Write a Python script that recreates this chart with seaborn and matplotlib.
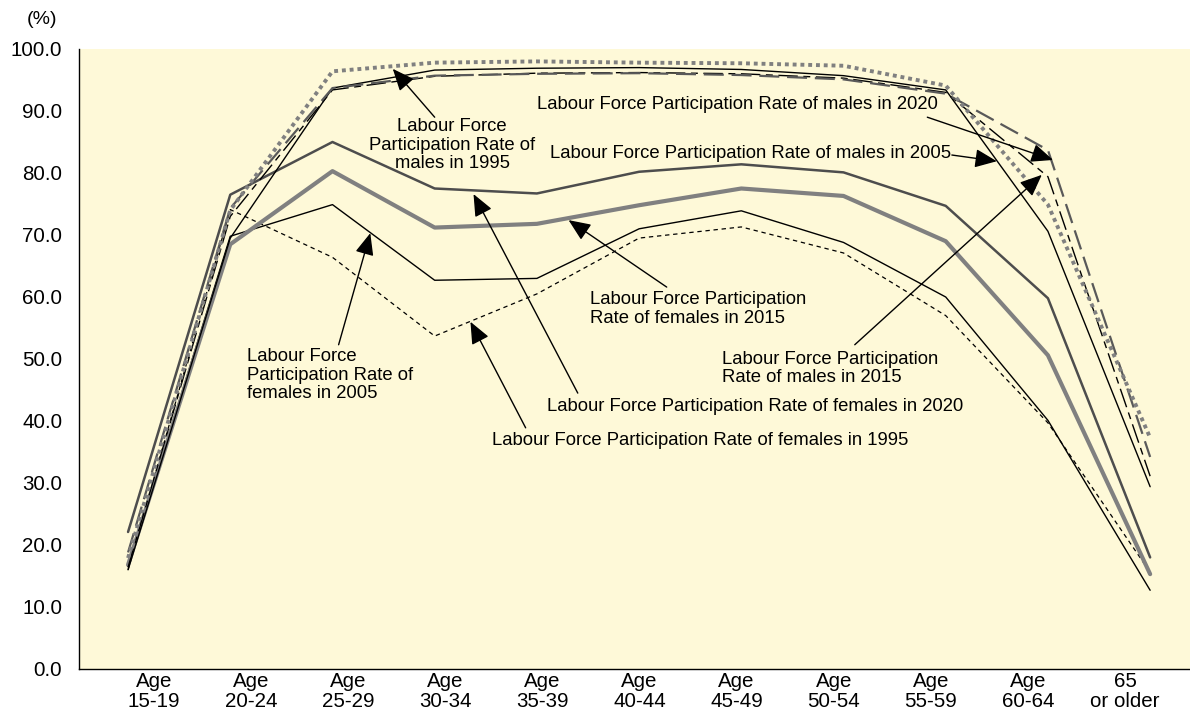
import numpy as np
import pandas as pd
import matplotlib
matplotlib.use("Agg")
import matplotlib.pyplot as plt
import seaborn as sns

# ---------------- data ----------------
age_groups = ["Age\n15-19", "Age\n20-24", "Age\n25-29", "Age\n30-34", "Age\n35-39",
              "Age\n40-44", "Age\n45-49", "Age\n50-54", "Age\n55-59", "Age\n60-64",
              "65\nor older"]
y_ticks = [0, 10, 20, 30, 40, 50, 60, 70, 80, 90, 100]

male_1995 = [17.9, 74.0, 96.4, 97.8, 98.0, 97.8, 97.7, 97.3, 94.1, 74.9, 37.3]
male_2005 = [16.0, 69.5, 93.7, 96.6, 96.9, 97.0, 96.7, 95.7, 93.4, 70.6, 29.4]
male_2015 = [16.4, 73.0, 93.4, 95.6, 96.1, 96.2, 96.0, 95.3, 93.0, 79.4, 31.1]
male_2020 = [18.8, 74.3, 93.7, 95.7, 96.0, 96.1, 95.8, 95.1, 92.8, 83.7, 34.2]
female_1995 = [16.0, 74.1, 66.4, 53.7, 60.5, 69.5, 71.3, 67.1, 57.0, 39.7, 15.6]
female_2005 = [16.5, 69.8, 74.9, 62.7, 63.0, 71.0, 73.9, 68.8, 60.0, 40.1, 12.7]
female_2015 = [16.8, 68.5, 80.3, 71.2, 71.8, 74.8, 77.5, 76.3, 69.0, 50.6, 15.3]
female_2020 = [22.1, 76.5, 85.0, 77.5, 76.7, 80.2, 81.4, 80.1, 74.7, 59.8, 18.0]

series = {
    "female_1995": female_1995,
    "female_2005": female_2005,
    "female_2015": female_2015,
    "female_2020": female_2020,
    "male_2005": male_2005,
    "male_2015": male_2015,
    "male_2020": male_2020,
    "male_1995": male_1995,
}

styles = {
    "female_1995": dict(color="black", lw=0.9, linestyle=(0, (3.5, 3))),
    "female_2005": dict(color="black", lw=1.0, linestyle="-"),
    "female_2015": dict(color="#808080", lw=3.0, linestyle="-"),
    "female_2020": dict(color="#4d4d4d", lw=1.8, linestyle="-"),
    "male_2005": dict(color="black", lw=1.0, linestyle="-"),
    "male_2015": dict(color="black", lw=1.0, linestyle=(0, (14, 4, 5, 4))),
    "male_2020": dict(color="#595959", lw=1.6, linestyle=(0, (9, 3.5))),
    "male_1995": dict(color="#808080", lw=2.8, linestyle=(0, (1, 1))),
}

rows = []
for name, vals in series.items():
    for i, v in enumerate(vals):
        rows.append({"series": name, "pos": i, "age": age_groups[i], "value": v})
df = pd.DataFrame(rows)

# ---------------- figure ----------------
sns.set_style("white")
plt.rcParams["font.family"] = ["Liberation Sans", "DejaVu Sans"]
plt.rcParams["text.color"] = "black"
plt.rcParams["xtick.color"] = "black"
plt.rcParams["ytick.color"] = "black"

fig = plt.figure(figsize=(11.9, 7.13), dpi=100)
ax = fig.add_axes([79 / 1190, 44 / 713, 1 - 79 / 1190, 620 / 713])
ax.set_facecolor("#FEF9D8")

for name in series:
    sub = df[df["series"] == name]
    sns.lineplot(data=sub, x="pos", y="value", ax=ax, legend=False,
                 **styles[name])

ax.set_xlim(-0.48, 10.39)
ax.set_ylim(0, 100)
ax.set_xlabel("")
ax.set_ylabel("")

for s in ["top", "right"]:
    ax.spines[s].set_visible(False)
for s in ["left", "bottom"]:
    ax.spines[s].set_color("black")
    ax.spines[s].set_linewidth(1.0)

ax.set_yticks(y_ticks)
ax.set_yticklabels([f"{t:.1f}" for t in y_ticks], fontsize=14.8, color="black")
ax.tick_params(axis="y", direction="out", length=7, width=1, color="black", pad=5)

n = len(age_groups)
label_pos = [0.254 + 0.95 * i for i in range(n)]
ax.set_xticks(label_pos)
ax.set_xticklabels(age_groups, fontsize=14.8, linespacing=1.08, color="black")
ax.tick_params(axis="x", which="major", length=0, pad=2)
ax.set_xticks([i + 0.5 for i in range(n - 1)], minor=True)
ax.tick_params(axis="x", which="minor", direction="in", length=8, width=1, color="black")

fig.text(42 / 1190, 1 - 20 / 713, "(%)", fontsize=14, ha="center", va="center",
         color="black")

# ---------------- annotations ----------------
fs = 13.3
arrow_kw = dict(arrowstyle="-|>,head_length=0.75,head_width=0.32", color="black",
                lw=1.0, mutation_scale=18, shrinkA=0, shrinkB=0)

def note(text, txy, tail, tip, ha="left"):
    ax.text(txy[0], txy[1], text, fontsize=fs, ha=ha, va="center",
            linespacing=1.12, color="black")
    ax.annotate("", xy=tip, xytext=tail, arrowprops=arrow_kw)

note("Labour Force\nParticipation Rate of\nmales in 1995", (3.17, 84.5),
     (3.00, 89.0), (2.59, 96.8), ha="center")
note("Labour Force Participation Rate of males in 2020", (4.00, 91.1),
     (7.82, 89.0), (9.05, 82.1))
note("Labour Force Participation Rate of males in 2005", (4.13, 83.2),
     (8.06, 82.9), (8.50, 81.9))
note("Labour Force Participation\nRate of males in 2015", (5.81, 48.5),
     (7.11, 52.3), (8.94, 79.7))
note("Labour Force Participation\nRate of females in 2015", (4.52, 58.1),
     (5.27, 61.6), (4.31, 72.4))
note("Labour Force Participation Rate of females in 2020", (4.10, 42.4),
     (4.40, 44.5), (3.38, 76.6))
note("Labour Force Participation Rate of females in 1995", (3.56, 36.8),
     (3.89, 38.9), (3.35, 56.0))
note("Labour Force\nParticipation Rate of\nfemales in 2005", (1.16, 47.4),
     (2.06, 52.3), (2.37, 70.3))

fig.savefig("out.png", dpi=100)
